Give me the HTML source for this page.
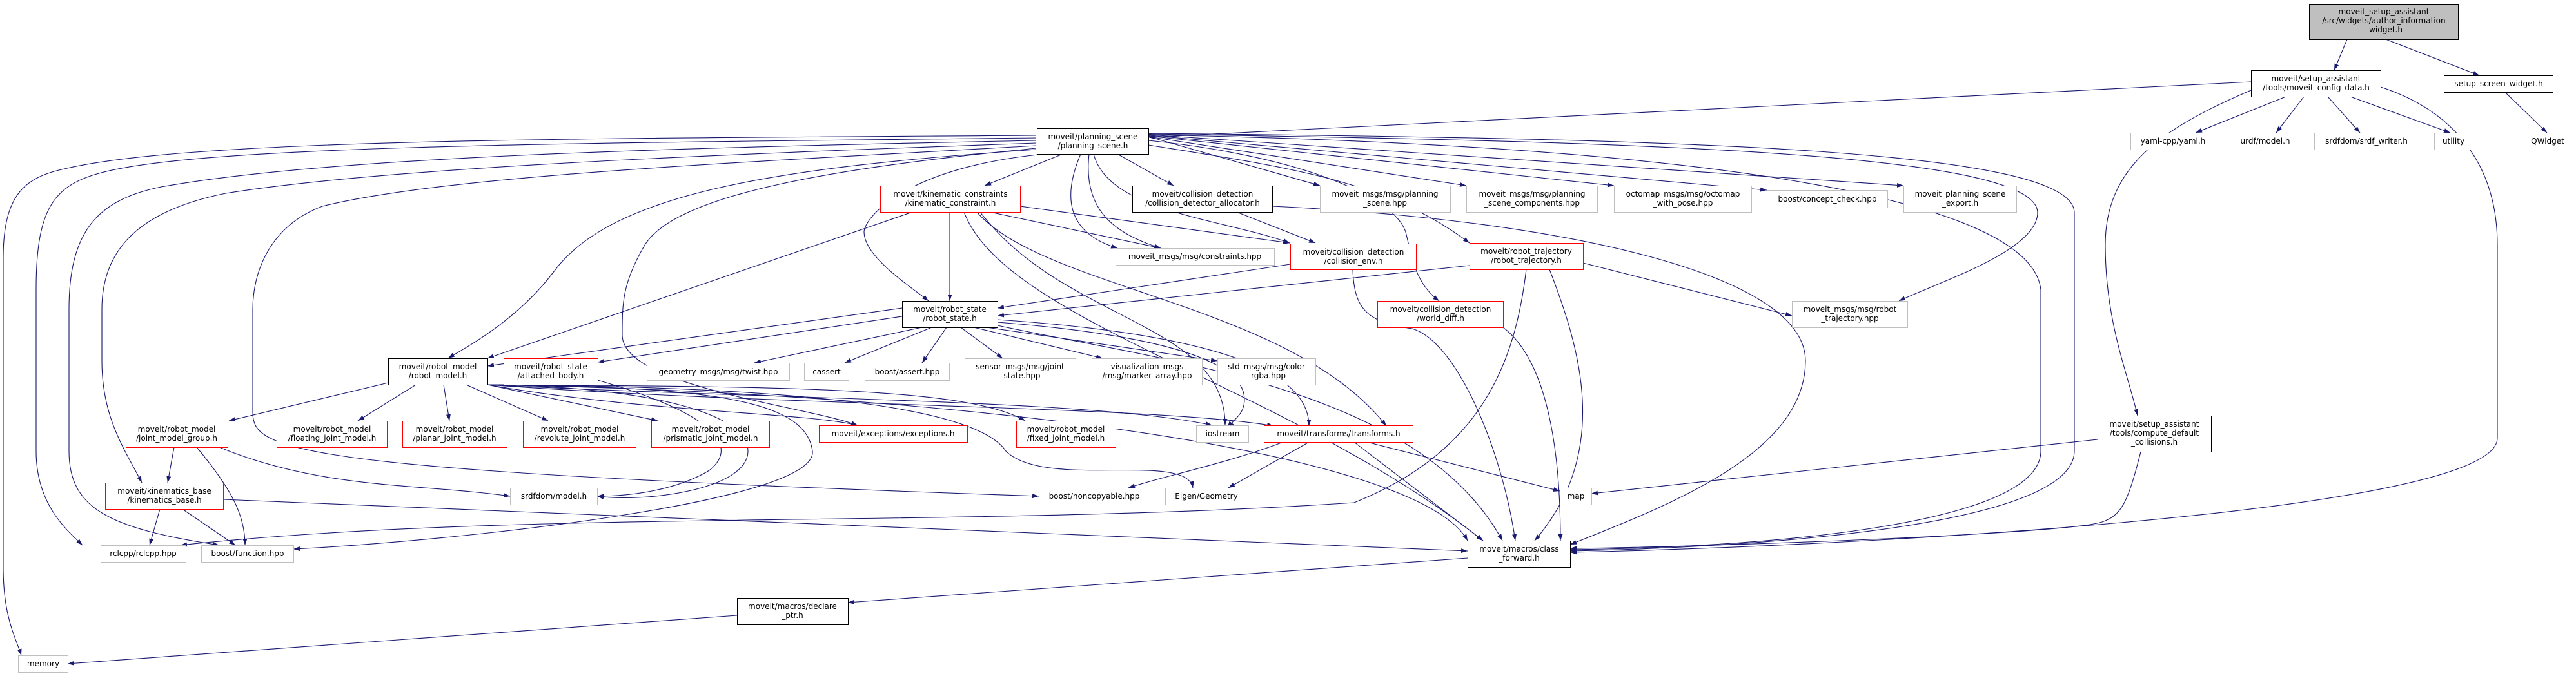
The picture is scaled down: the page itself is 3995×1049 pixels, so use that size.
<!DOCTYPE html>
<html><head><meta charset="utf-8"><style>
html,body{margin:0;padding:0;background:#fff;}
svg{display:block;}
text{font-family:"DejaVu Sans","Liberation Sans",sans-serif;font-size:12px;fill:#000;}
.e{fill:none;stroke:#191970;stroke-width:1.1;}
.b{fill:#fff;stroke:#000;stroke-width:1;}
.r{fill:#fff;stroke:#ff0000;stroke-width:1;}
.g{fill:#fff;stroke:#bfbfbf;stroke-width:1;}
</style></head><body>
<svg width="3995" height="1049" viewBox="0 0 3995 1049" xmlns="http://www.w3.org/2000/svg">
<defs><marker id="a" viewBox="0 0 10 10" refX="10" refY="5" markerWidth="10" markerHeight="10" markerUnits="userSpaceOnUse" orient="auto"><path d="M0,1.5 L10,5 L0,8.5 z" fill="#191970"/></marker></defs>
<g marker-end="url(#a)">
<!-- top -->
<path class="e" d="M3640,61 L3620,109"/>
<path class="e" d="M3700,61 L3845,117"/>
<path class="e" d="M3885,143 L3950,206"/>
<path class="e" d="M3491,127 L1781,213"/>
<path class="e" d="M3545,150 L3405,206"/>
<path class="e" d="M3573,150 L3530,206"/>
<path class="e" d="M3610,150 L3660,206"/>
<path class="e" d="M3645,150 L3800,206"/>
<path class="e" d="M3491,140 C3350,200 3265,260 3265,380 C3265,500 3300,580 3315,645"/>
<path class="e" d="M3692,135 C3800,170 3873,250 3873,380 L3873,680 C3873,800 2800,850 2435,857"/>
<!-- planning scene left -->
<path class="e" d="M1607,210 C900,215 300,215 100,262 C40,275 5,300 5,400 L5,880 C5,960 25,990 33,1017"/>
<path class="e" d="M1607,214 C900,222 300,225 150,270 C80,290 56,330 56,450 L56,700 C56,780 100,820 128,846"/>
<path class="e" d="M1607,218 C1000,230 500,245 250,290 C150,310 107,360 107,480 L107,700 C107,790 170,820 340,846"/>
<path class="e" d="M1607,222 C1100,240 600,260 350,300 C200,330 158,400 158,480 L158,560 C158,650 195,700 220,749"/>
<path class="e" d="M1607,226 C1200,250 700,270 500,320 C420,350 392,420 392,480 L392,640 C392,700 450,730 1611,770"/>
<path class="e" d="M1607,230 C1300,260 1050,300 1000,380 C965,440 965,470 965,520 C965,600 1250,630 1330,660"/>
<path class="e" d="M1607,232 C1200,260 950,300 860,420 C800,500 720,540 695,556"/>
<path class="e" d="M1620,239 C1400,260 1340,340 1340,360 C1340,400 1420,450 1440,467"/>
<path class="e" d="M1648,239 L1527,288"/>
<path class="e" d="M1733,239 L1820,288"/>
<path class="e" d="M1676,239 C1650,300 1650,360 1733,385"/>
<path class="e" d="M1689,239 C1680,320 1720,360 1800,385"/>
<path class="e" d="M1696,239 C1720,330 1900,340 2000,377"/>
<path class="e" d="M1781,225 C2000,260 2150,280 2279,377"/>
<path class="e" d="M1781,218 C2000,240 2160,300 2180,360 C2190,400 2195,440 2232,467"/>
<path class="e" d="M1781,212 L2047,288"/>
<path class="e" d="M1781,212 L2274,288"/>
<path class="e" d="M1781,211 L2503,288"/>
<path class="e" d="M1781,210 L2740,295"/>
<path class="e" d="M1781,209 L2952,288"/>
<path class="e" d="M1781,208 C2600,220 3160,240 3160,330 C3160,390 3000,440 2945,467"/>
<path class="e" d="M1781,207 C2600,215 3217,230 3217,330 L3217,700 C3217,820 2700,850 2435,855"/>
<path class="e" d="M1781,209 C2600,225 3150,300 3165,450 L3165,700 C3165,820 2700,850 2435,853"/>
<!-- kinematic constraint -->
<path class="e" d="M1415,329 L756,556"/>
<path class="e" d="M1473,329 L1473,467"/>
<path class="e" d="M1535,329 L1800,385"/>
<path class="e" d="M1582,320 L2000,377"/>
<path class="e" d="M1515,329 C1620,450 2000,470 2150,661"/>
<path class="e" d="M1520,329 C1650,500 1900,500 1900,660"/>
<path class="e" d="M1495,329 C1560,500 2000,600 2300,839"/>
<!-- allocator -->
<path class="e" d="M1918,329 L2040,377"/>
<path class="e" d="M1973,320 C2400,340 2800,420 2800,560 C2800,700 2600,780 2435,845"/>
<!-- collision env -->
<path class="e" d="M2001,410 L1547,478"/>
<path class="e" d="M2098,418 C2100,480 2120,500 2190,510 C2260,530 2330,700 2350,839"/>
<!-- robot trajectory -->
<path class="e" d="M2279,412 L1547,490"/>
<path class="e" d="M2455,408 L2779,490"/>
<path class="e" d="M2367,418 C2350,560 2300,700 2100,780 C1500,820 800,790 280,846"/>
<path class="e" d="M2403,418 C2450,540 2500,700 2380,839"/>
<path class="e" d="M2331,508 C2400,560 2420,700 2420,839"/>
<!-- robot state -->
<path class="e" d="M1399,478 L756,568"/>
<path class="e" d="M1405,490 L927,562"/>
<path class="e" d="M1430,508 L1170,563"/>
<path class="e" d="M1445,508 L1310,563"/>
<path class="e" d="M1468,508 L1430,563"/>
<path class="e" d="M1490,508 L1555,556"/>
<path class="e" d="M1510,508 L1710,556"/>
<path class="e" d="M1530,508 L1888,560"/>
<path class="e" d="M1547,496 C1900,520 2030,580 2030,661"/>
<path class="e" d="M1547,500 C1800,520 1930,560 1930,620 C1930,650 1900,655 1915,660"/>
<path class="e" d="M1547,505 C1800,560 2200,600 2330,839"/>
<!-- robot model -->
<path class="e" d="M602,594 L355,653"/>
<path class="e" d="M645,597 L555,653"/>
<path class="e" d="M688,597 L697,653"/>
<path class="e" d="M723,597 L850,653"/>
<path class="e" d="M756,597 L1020,653"/>
<path class="e" d="M756,597 C1000,640 1250,640 1330,660"/>
<path class="e" d="M756,597 C1200,600 1500,600 1590,653"/>
<path class="e" d="M756,597 C1200,620 1700,620 1880,660"/>
<path class="e" d="M756,597 C1200,630 1800,630 1975,661"/>
<path class="e" d="M756,597 C1300,600 1520,640 1560,700 C1620,760 1840,700 1850,757"/>
<path class="e" d="M756,597 C1500,610 2200,700 2276,839"/>
<path class="e" d="M756,597 C1000,600 1160,640 1160,700 C1160,760 1000,780 926,770"/>
<path class="e" d="M756,597 C1100,600 1250,620 1260,700 C1270,780 700,840 455,852"/>
<path class="e" d="M927,590 C1100,640 1150,690 1100,730 C1050,760 980,770 926,770"/>
<!-- joint model group -->
<path class="e" d="M270,694 L260,749"/>
<path class="e" d="M305,694 C360,760 380,800 380,846"/>
<path class="e" d="M340,694 C500,760 650,750 791,770"/>
<!-- kinematics base -->
<path class="e" d="M248,790 L232,846"/>
<path class="e" d="M283,790 L365,846"/>
<path class="e" d="M346,775 L2276,855"/>
<!-- transforms -->
<path class="e" d="M1990,686 C1900,720 1800,740 1750,757"/>
<path class="e" d="M2030,686 L1905,757"/>
<path class="e" d="M2100,686 L2300,839"/>
<path class="e" d="M2120,686 L2419,762"/>
<!-- compute default -->
<path class="e" d="M3253,682 L2468,766"/>
<path class="e" d="M3320,701 C3300,780 3290,800 3260,810 C3200,830 2600,850 2435,851"/>
<!-- class forward -->
<path class="e" d="M2276,866 L1315,935"/>
<path class="e" d="M1143,955 L105,1030"/>
</g>
<!-- nodes -->
<rect x="3581.5" y="6.5" width="231" height="55" fill="#bfbfbf" stroke="#000"/>
<text x="3697" y="22" text-anchor="middle">moveit_setup_assistant</text>
<text x="3697" y="36" text-anchor="middle">/src/widgets/author_information</text>
<text x="3697" y="50" text-anchor="middle">_widget.h</text>

<g text-anchor="middle">
<rect class="b" x="3491.5" y="109.5" width="201" height="41"/><text x="3592" y="126">moveit/setup_assistant</text><text x="3592" y="140">/tools/moveit_config_data.h</text>
<rect class="b" x="3790.5" y="117.5" width="169" height="26"/><text x="3875" y="134">setup_screen_widget.h</text>
<rect class="g" x="3304.5" y="206.5" width="132" height="26"/><text x="3370" y="223">yaml-cpp/yaml.h</text>
<rect class="g" x="3461.5" y="206.5" width="104" height="26"/><text x="3513" y="223">urdf/model.h</text>
<rect class="g" x="3589.5" y="206.5" width="162" height="26"/><text x="3670" y="223">srdfdom/srdf_writer.h</text>
<rect class="g" x="3775.5" y="206.5" width="60" height="26"/><text x="3805" y="223">utility</text>
<rect class="g" x="3911.5" y="206.5" width="79" height="26"/><text x="3951" y="223">QWidget</text>

<rect class="b" x="1608.5" y="199.5" width="173" height="40"/><text x="1695" y="216">moveit/planning_scene</text><text x="1695" y="230">/planning_scene.h</text>
<rect class="r" x="1365.5" y="288.5" width="217" height="41"/><text x="1474" y="305">moveit/kinematic_constraints</text><text x="1474" y="319">/kinematic_constraint.h</text>
<rect class="b" x="1756.5" y="288.5" width="217" height="41"/><text x="1865" y="305">moveit/collision_detection</text><text x="1865" y="319">/collision_detector_allocator.h</text>
<rect class="g" x="1730.5" y="385.5" width="246" height="26"/><text x="1853" y="402">moveit_msgs/msg/constraints.hpp</text>
<rect class="g" x="2047.5" y="288.5" width="202" height="41"/><text x="2148" y="305">moveit_msgs/msg/planning</text><text x="2148" y="319">_scene.hpp</text>
<rect class="g" x="2274.5" y="288.5" width="203" height="41"/><text x="2376" y="305">moveit_msgs/msg/planning</text><text x="2376" y="319">_scene_components.hpp</text>
<rect class="g" x="2503.5" y="288.5" width="213" height="41"/><text x="2610" y="305">octomap_msgs/msg/octomap</text><text x="2610" y="319">_with_pose.hpp</text>
<rect class="g" x="2740.5" y="295.5" width="187" height="27"/><text x="2834" y="313">boost/concept_check.hpp</text>
<rect class="g" x="2952.5" y="288.5" width="175" height="41"/><text x="3040" y="305">moveit_planning_scene</text><text x="3040" y="319">_export.h</text>
<rect class="r" x="2001.5" y="378.5" width="195" height="40"/><text x="2099" y="395">moveit/collision_detection</text><text x="2099" y="409">/collision_env.h</text>
<rect class="r" x="2279.5" y="377.5" width="176" height="41"/><text x="2367" y="394">moveit/robot_trajectory</text><text x="2367" y="408">/robot_trajectory.h</text>
<rect class="r" x="2136.5" y="467.5" width="195" height="41"/><text x="2234" y="484">moveit/collision_detection</text><text x="2234" y="498">/world_diff.h</text>
<rect class="g" x="2779.5" y="467.5" width="179" height="41"/><text x="2869" y="484">moveit_msgs/msg/robot</text><text x="2869" y="498">_trajectory.hpp</text>
<rect class="b" x="1399.5" y="467.5" width="148" height="41"/><text x="1473" y="484">moveit/robot_state</text><text x="1473" y="498">/robot_state.h</text>

<rect class="b" x="602.5" y="556.5" width="154" height="41"/><text x="679" y="573">moveit/robot_model</text><text x="679" y="587">/robot_model.h</text>
<rect class="r" x="781.5" y="556.5" width="146" height="41"/><text x="854" y="573">moveit/robot_state</text><text x="854" y="587">/attached_body.h</text>
<rect class="g" x="1003.5" y="563.5" width="221" height="27"/><text x="1114" y="581">geometry_msgs/msg/twist.hpp</text>
<rect class="g" x="1247.5" y="563.5" width="69" height="27"/><text x="1282" y="581">cassert</text>
<rect class="g" x="1341.5" y="563.5" width="131" height="27"/><text x="1407" y="581">boost/assert.hpp</text>
<rect class="g" x="1496.5" y="556.5" width="172" height="41"/><text x="1582" y="573">sensor_msgs/msg/joint</text><text x="1582" y="587">_state.hpp</text>
<rect class="g" x="1693.5" y="556.5" width="171" height="41"/><text x="1779" y="573">visualization_msgs</text><text x="1779" y="587">/msg/marker_array.hpp</text>
<rect class="g" x="1888.5" y="556.5" width="152" height="41"/><text x="1964" y="573">std_msgs/msg/color</text><text x="1964" y="587">_rgba.hpp</text>

<rect class="r" x="195.5" y="653.5" width="158" height="41"/><text x="274" y="670">moveit/robot_model</text><text x="274" y="684">/joint_model_group.h</text>
<rect class="r" x="429.5" y="653.5" width="171" height="41"/><text x="515" y="670">moveit/robot_model</text><text x="515" y="684">/floating_joint_model.h</text>
<rect class="r" x="624.5" y="653.5" width="162" height="41"/><text x="705" y="670">moveit/robot_model</text><text x="705" y="684">/planar_joint_model.h</text>
<rect class="r" x="811.5" y="653.5" width="175" height="41"/><text x="899" y="670">moveit/robot_model</text><text x="899" y="684">/revolute_joint_model.h</text>
<rect class="r" x="1010.5" y="653.5" width="183" height="41"/><text x="1102" y="670">moveit/robot_model</text><text x="1102" y="684">/prismatic_joint_model.h</text>
<rect class="r" x="1270.5" y="660.5" width="230" height="26"/><text x="1385" y="677">moveit/exceptions/exceptions.h</text>
<rect class="r" x="1576.5" y="653.5" width="154" height="41"/><text x="1653" y="670">moveit/robot_model</text><text x="1653" y="684">/fixed_joint_model.h</text>
<rect class="g" x="1855.5" y="660.5" width="81" height="26"/><text x="1896" y="677">iostream</text>
<rect class="r" x="1960.5" y="660.5" width="231" height="26"/><text x="2076" y="677">moveit/transforms/transforms.h</text>

<rect class="r" x="163.5" y="749.5" width="183" height="41"/><text x="255" y="766">moveit/kinematics_base</text><text x="255" y="780">/kinematics_base.h</text>
<rect class="g" x="791.5" y="757.5" width="135" height="26"/><text x="859" y="774">srdfdom/model.h</text>
<rect class="g" x="1611.5" y="757.5" width="172" height="26"/><text x="1697" y="774">boost/noncopyable.hpp</text>
<rect class="g" x="1807.5" y="757.5" width="128" height="26"/><text x="1871" y="774">Eigen/Geometry</text>
<rect class="g" x="2419.5" y="757.5" width="49" height="26"/><text x="2444" y="774">map</text>
<rect class="b" x="3253.5" y="645.5" width="176" height="56"/><text x="3341" y="662">moveit/setup_assistant</text><text x="3341" y="676">/tools/compute_default</text><text x="3341" y="690">_collisions.h</text>

<rect class="g" x="156.5" y="846.5" width="132" height="26"/><text x="222" y="863">rclcpp/rclcpp.hpp</text>
<rect class="g" x="312.5" y="846.5" width="143" height="26"/><text x="384" y="863">boost/function.hpp</text>
<rect class="b" x="2276.5" y="839.5" width="159" height="41"/><text x="2356" y="856">moveit/macros/class</text><text x="2356" y="870">_forward.h</text>
<rect class="b" x="1143.5" y="928.5" width="172" height="41"/><text x="1229" y="945">moveit/macros/declare</text><text x="1229" y="959">_ptr.h</text>
<rect class="g" x="28.5" y="1017.5" width="77" height="26"/><text x="67" y="1034">memory</text>
</g>
</svg>
</body></html>
